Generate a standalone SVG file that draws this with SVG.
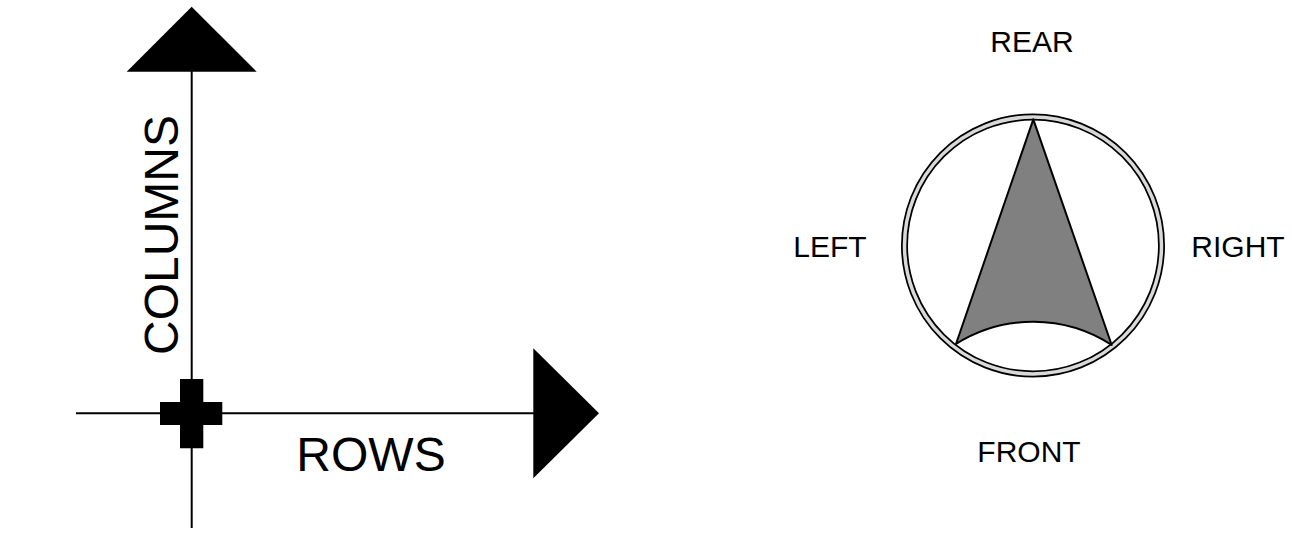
<svg xmlns="http://www.w3.org/2000/svg" width="1292" height="539" viewBox="0 0 1292 539">
<style>
.ln{stroke:#000;stroke-width:2;fill:none}
.lbl{font-family:"Liberation Sans",Arial,sans-serif;fill:#000;text-anchor:middle}
.big{font-size:48px}
.sm{font-size:30px}
</style>
<rect width="1292" height="539" fill="#fff"/>
<g id="connectors">
<line class="ln" x1="191.7" y1="71" x2="191.7" y2="528"/>
<line class="ln" x1="76" y1="413.3" x2="534" y2="413.3"/>
</g>
<g id="arrow-up"><polygon points="191.7,6.7 256.7,71.7 126.7,71.7" fill="#000"/></g>
<g id="arrow-right"><polygon points="533.3,348.3 599,413.3 533.3,478.3" fill="#000"/></g>
<g id="origin"><path d="M180,379H203.3V402H222.3V425H203.3V448.3H180V425H160V402H180Z" fill="#000"/></g>
<g id="columns-label"><text class="lbl big" transform="translate(178,235) rotate(-90)">COLUMNS</text></g>
<g id="rows-label"><text class="lbl big" x="371" y="470.7">ROWS</text></g>
<g id="compass">
<circle cx="1033" cy="245.5" r="128.5" fill="none" stroke="#000" stroke-width="7"/>
<circle cx="1033" cy="245.5" r="128.5" fill="none" stroke="#d9d9d9" stroke-width="3.5"/>
<path d="M1033.3,119.3L1111.7,345A145,145 0 0 0 956,344Z" fill="#808080" stroke="#000" stroke-width="2" stroke-linejoin="round"/>
</g>
<g id="labels">
<text class="lbl sm" x="1032" y="52">REAR</text>
<text class="lbl sm" x="830" y="257">LEFT</text>
<text class="lbl sm" x="1238" y="257">RIGHT</text>
<text class="lbl sm" x="1029" y="462">FRONT</text>
</g>
</svg>
